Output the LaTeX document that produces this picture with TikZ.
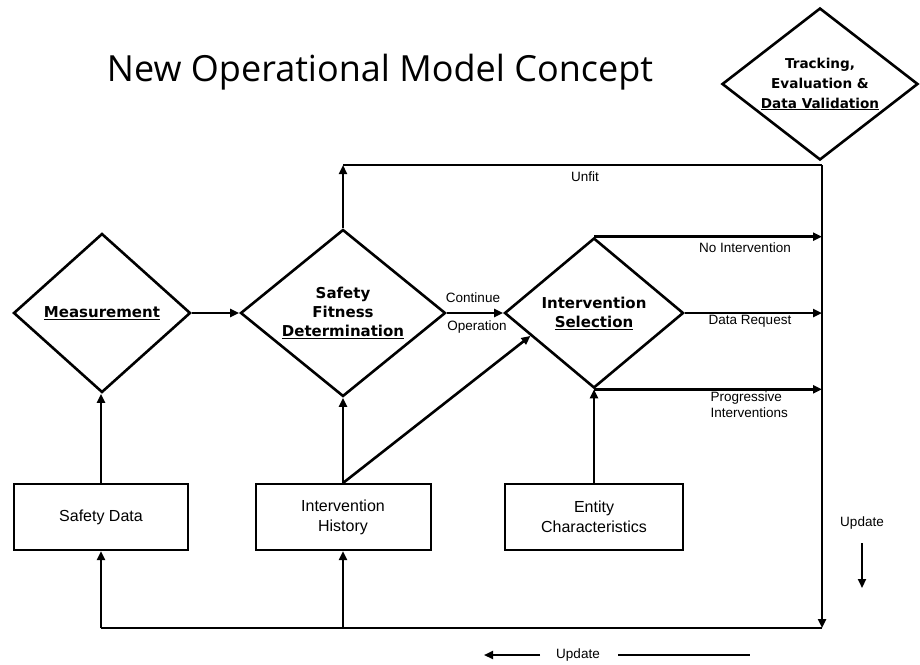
\documentclass[tikz,border=0pt]{standalone}
\usepackage{fontspec}
\setmainfont{Liberation Sans}
\newfontfamily\verdfont{DejaVu Sans}
\newfontfamily\titlefont{Open Sans}
\usetikzlibrary{shapes.geometric,arrows.meta,calc}

\begin{document}
\begin{tikzpicture}[x=1pt,y=-1pt,line width=2.6pt,
  >={Triangle[length=9pt,width=8pt]},
  dia/.style={diamond,draw,inner sep=0pt,aspect=1.2,align=center,
    font=\verdfont\bfseries\fontsize{15}{19}\selectfont},
  box/.style={rectangle,draw,line width=2pt,align=center,
    font=\fontsize{16}{20}\selectfont},
  lbl/.style={font=\fontsize{13.5}{16}\selectfont,align=left}]
\useasboundingbox (0,0) rectangle (920,664);

% Title
\node (title) at (380,72) {\titlefont\fontsize{36}{42}\selectfont New Operational Model Concept};

% Nodes
\node[dia,minimum width=196pt,minimum height=152pt,font=\verdfont\bfseries\fontsize{13.6}{20}\selectfont] (track) at (820,84)
  {Tracking,\\Evaluation \&\\\underline{Data Validation}};
\node[dia,minimum width=177pt,minimum height=159pt] (meas) at (102,313)
  {\underline{Measurement}};
\node[dia,minimum width=205pt,minimum height=167pt] (sfd) at (343,313)
  {Safety\\Fitness\\\underline{Determination}};
\node[dia,minimum width=179pt,minimum height=150pt] (is) at (594,313)
  {Intervention\\\underline{Selection}};
\node[box,minimum width=174pt,minimum height=66pt] (sd) at (101,517) {Safety Data};
\node[box,minimum width=175pt,minimum height=66pt] (ih) at (343,517) {Intervention\\History};
\node[box,minimum width=178pt,minimum height=66pt] (ec) at (594,517) {Entity\\Characteristics};

\coordinate (rt) at (822,165);
\coordinate (rb) at (822,628);

% Links
\draw[->] (meas.east) -- (sfd.west);
\draw[->] (sfd.east) -- (is.west);
\draw[->] (sd.north) -- (sd.north |- meas.south);
\draw[->] (ih.north) -- (sfd.south);
\draw[->] (ih.north) -- ($(is.west)!0.3!(is.south)$);
\draw[->] (ec.north) -- (is.south);
\draw[->] (sfd.north) -- (sfd.north |- rt);
\draw (sfd.north |- rt) -- (rt);
\draw[->] (is.north) -- (is.north -| rt);
\draw[->] (is.east) -- (is.east -| rt);
\draw[->] (is.south) -- (is.south -| rt);
\draw[->] (rt) -- (rb);
\draw (rb) -- (sd.south |- rb);
\draw[->] (sd.south |- rb) -- (sd.south);
\draw[->] (ih.south |- rb) -- (ih.south);

% Labels
\node[lbl] (unfit) at (585,177) {Unfit};
\node[lbl] (cont) at (473,298) {Continue};
\node[lbl] (oper) at (477,327) {Operation};
\node[lbl] (noint) at (745,248) {No Intervention};
\node[lbl] (dreq) at (750,321) {Data Request};
\node[lbl,anchor=west] (prog) at (706,405) {Progressive\\Interventions};

% Update hints
\node[lbl] (updr) at (862,523) {Update};
\coordinate (ua) at (862,543);
\coordinate (ub) at (862,588);
\draw[->,line width=2pt] (ua) -- (ub);
\node[lbl] (updb) at (578,655) {Update};
\coordinate (ul1) at (540,655);
\coordinate (ul2) at (484,655);
\coordinate (ur1) at (618,655);
\coordinate (ur2) at (750,655);
\draw[->,line width=2pt] (ul1) -- (ul2);
\draw[line width=2pt] (ur1) -- (ur2);
\end{tikzpicture}
\end{document}
